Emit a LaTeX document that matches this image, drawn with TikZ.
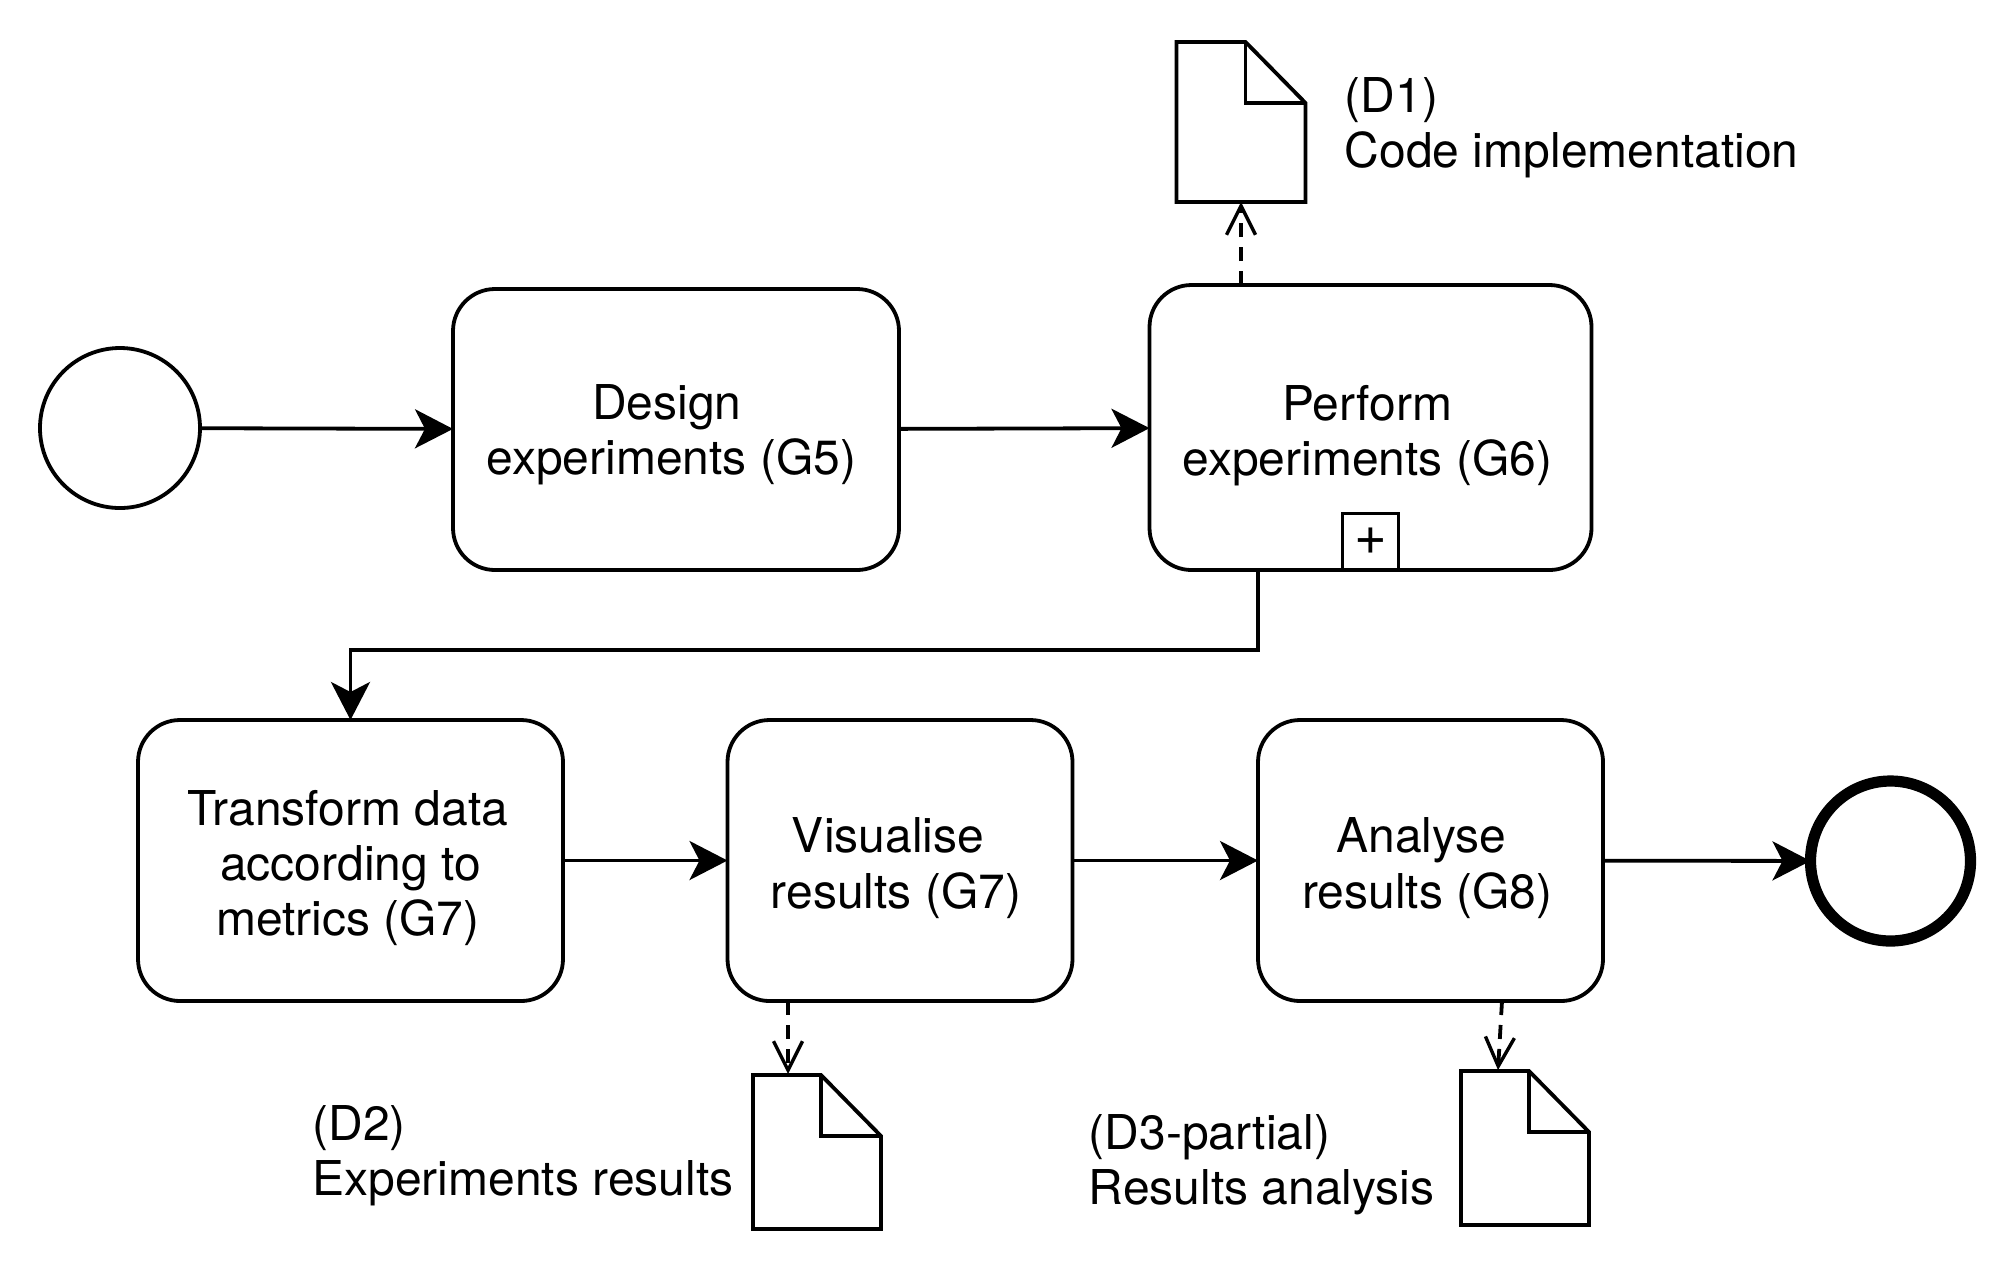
\documentclass[tikz,border=0pt]{standalone}
\usepackage{fontspec}
\setmainfont{TeX Gyre Heros}
\usetikzlibrary{arrows.meta,calc}
\tikzset{
  base/.style={line width=1.9pt,draw=black},
  task/.style={base,rectangle,rounded corners=21pt,align=center,inner sep=0pt,outer sep=0pt,font=\fontsize{24}{27.7}\selectfont},
  startev/.style={base,circle,minimum size=80pt,inner sep=0pt,outer sep=0pt},
  endev/.style={draw=black,line width=5.6pt,circle,minimum size=80pt,inner sep=0pt,outer sep=0pt},
  docbox/.style={rectangle,minimum width=64pt,minimum height=77pt,inner sep=0pt,outer sep=0pt},
  docline/.style={base,line join=miter},
  lbl/.style={anchor=west,align=left,inner sep=0pt,font=\fontsize{24}{27.7}\selectfont},
  seq/.style={base,-{Stealth[length=19pt,width=19.5pt,inset=5pt]}},
  assoc/.style={base,dash pattern=on 7pt off 5pt,-{Straight Barb[length=14.5pt,width=14.5pt,line width=1.7pt]}},
  plusbox/.style={base,rectangle,minimum size=28pt,inner sep=0pt,font=\fontsize{28}{28}\selectfont},
}
\newcommand{\tstrut}[1]{\rule{0pt}{#1}}
\newcommand{\docoutline}[1]{%
  \draw[docline] (#1.north west) -- ($(#1.north east)+(-60,0)$) -- ($(#1.north east)+(0,61)$) -- (#1.south east) -- (#1.south west) -- cycle;
  \draw[docline] ($(#1.north east)+(-60,0)$) -- ($(#1.north east)+(-60,61)$) -- ($(#1.north east)+(0,61)$);
}
\begin{document}
\begin{tikzpicture}[x=0.5pt,y=-0.5pt]
\useasboundingbox (0,0) rectangle (2016,1276);
\node[startev] (start) at (120,428) {};
\node[task,minimum width=223pt,minimum height=140.5pt] (design) at (676,429.5) {\tstrut{23pt}Design\hspace*{9.3pt}\\\hspace*{-4.5pt}experiments (G5)};
\node[task,minimum width=221pt,minimum height=142.5pt] (perform) at (1370.5,427.5) {\tstrut{25.7pt}Perform\hspace*{3.2pt}\\experiments (G6)\hspace*{3.2pt}};
\node[plusbox] (plus) at (1370.5,541.5) {+};
\node[task,minimum width=212.5pt,minimum height=140.5pt] (transform) at (350.5,860.5) {\tstrut{25pt}Transform data\hspace*{2.6pt}\\according to\hspace*{5pt}\\metrics (G7)\hspace*{2.6pt}};
\node[task,minimum width=172.5pt,minimum height=140.5pt] (visualise) at (900,860.5) {\tstrut{25pt}Visualise\hspace*{12pt}\\results (G7)\hspace*{4pt}};
\node[task,minimum width=172.5pt,minimum height=140.5pt] (analyse) at (1430.5,860.5) {\tstrut{25pt}Analyse\hspace*{9.2pt}\\results (G8)\hspace*{3.2pt}};
\node[endev] (endevent) at (1890.5,861) {};
\node[docbox,minimum width=64.5pt,minimum height=80pt] (d1) at (1241,122) {};
\node[docbox] (d2) at (817,1152) {};
\node[docbox] (d3) at (1525,1148) {};
\docoutline{d1}
\docoutline{d2}
\docoutline{d3}
\node[lbl] (l1) at (1344.4,128) {(D1)\\Code implementation};
\node[lbl] (l2) at (312,1156) {(D2)\\Experiments results};
\node[lbl] (l3) at (1088.4,1164.5) {(D3-partial)\\Results analysis};
\draw[seq] (start) -- (design);
\draw[seq] (design) -- (perform);
\coordinate (pout) at (1258,570);
\coordinate (pmid) at (350.5,650);
\draw[seq] (pout) |- (pmid) -- (transform.north);
\draw[seq] (transform) -- (visualise);
\draw[seq] (visualise) -- (analyse);
\draw[seq] (analyse) -- (endevent);
\draw[assoc] (perform.north -| d1.south) -- (d1.south);
\coordinate (vout) at (788,1001);
\coordinate (vin) at (788,1074);
\draw[assoc] (vout) -- (vin);
\coordinate (aout) at (1502,1001);
\coordinate (ain) at (1498,1070);
\draw[assoc] (aout) -- (ain);
\end{tikzpicture}
\end{document}
